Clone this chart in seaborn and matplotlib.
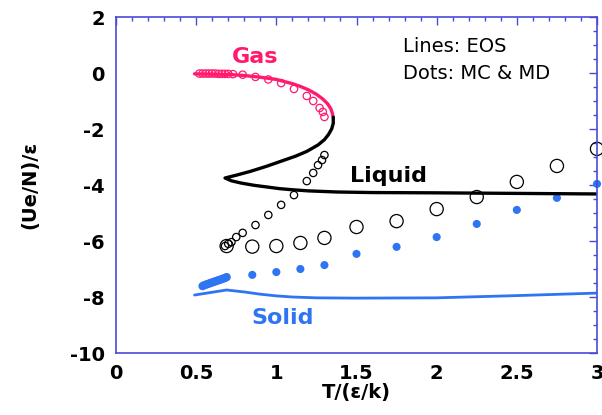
import matplotlib
matplotlib.use("Agg")
import matplotlib.pyplot as plt
from matplotlib.ticker import MultipleLocator
import seaborn as sns

# EOS lines
gas_T = [0.49, 0.60, 0.70, 0.80, 0.90, 1.00, 1.10, 1.15, 1.20, 1.25, 1.29, 1.32, 1.34, 1.35, 1.355]
gas_U = [-0.03, -0.04, -0.05, -0.09, -0.15, -0.23, -0.38, -0.48, -0.60, -0.76, -0.93, -1.10, -1.28, -1.45, -1.58]
loop_T = [1.355, 1.355, 1.345, 1.325, 1.30, 1.26, 1.19, 1.12, 1.04, 0.94, 0.84, 0.75, 0.68,
          0.72, 0.78, 0.86, 0.94, 1.02, 1.10, 1.20, 1.38, 1.60, 2.00, 2.50, 3.00]
loop_U = [-1.58, -1.80, -2.00, -2.20, -2.38, -2.57, -2.80, -2.97, -3.13, -3.33, -3.51, -3.65, -3.75,
          -3.85, -3.93, -4.01, -4.07, -4.13, -4.17, -4.21, -4.25, -4.27, -4.28, -4.30, -4.32]
solid_T = [0.49, 0.60, 0.69, 0.80, 0.90, 1.00, 1.10, 1.25, 1.50, 2.00, 2.50, 3.00]
solid_U = [-7.93, -7.83, -7.75, -7.82, -7.90, -7.96, -8.00, -8.03, -8.04, -8.03, -7.95, -7.86]

# MC / MD dots
gasmc_T = [0.52, 0.54, 0.56, 0.58, 0.60, 0.62, 0.64, 0.66, 0.68, 0.70, 0.73, 0.79, 0.87, 0.95, 1.03, 1.11, 1.19, 1.23, 1.27, 1.29, 1.30]
gasmc_U = [-0.02, -0.02, -0.02, -0.02, -0.02, -0.02, -0.03, -0.03, -0.03, -0.03, -0.04, -0.06, -0.14, -0.23, -0.36, -0.57, -0.82, -1.00, -1.25, -1.39, -1.57]
liqs_T = [0.68, 0.70, 0.72, 0.75, 0.79, 0.87, 0.95, 1.03, 1.11, 1.19, 1.23, 1.26, 1.285, 1.30]
liqs_U = [-6.18, -6.10, -6.04, -5.86, -5.71, -5.43, -5.07, -4.71, -4.36, -3.86, -3.57, -3.29, -3.11, -2.93]
liqb_T = [0.69, 0.85, 1.00, 1.15, 1.30, 1.50, 1.75, 2.00, 2.25, 2.50, 2.75, 3.00]
liqb_U = [-6.18, -6.20, -6.18, -6.07, -5.89, -5.50, -5.29, -4.86, -4.43, -3.89, -3.32, -2.71]
solc_T = [0.54, 0.55, 0.56, 0.57, 0.58, 0.59, 0.60, 0.61, 0.62, 0.63, 0.64, 0.65, 0.66, 0.67, 0.68, 0.69]
solc_U = [-7.61, -7.58, -7.56, -7.54, -7.52, -7.50, -7.48, -7.46, -7.44, -7.42, -7.40, -7.38, -7.36, -7.34, -7.32, -7.29]
sold_T = [0.85, 1.00, 1.15, 1.30, 1.50, 1.75, 2.00, 2.25, 2.50, 2.75, 3.00]
sold_U = [-7.21, -7.11, -7.00, -6.86, -6.46, -6.21, -5.86, -5.39, -4.89, -4.46, -3.96]

x_ticks = [0, 0.5, 1, 1.5, 2, 2.5, 3]
x_labels = ["0", "0.5", "1", "1.5", "2", "2.5", "3"]
y_ticks = [2, 0, -2, -4, -6, -8, -10]
y_labels = ["2", "0", "-2", "-4", "-6", "-8", "-10"]

PINK = "#ff1a6e"
BLUE = "#2f74f2"
SPINE = "#4a4ad8"

sns.set_style("white")
plt.rcParams['font.family'] = ['DejaVu Sans']
plt.rcParams['text.color'] = 'black'
plt.rcParams['axes.labelcolor'] = 'black'
plt.rcParams['xtick.labelcolor'] = 'black'
plt.rcParams['ytick.labelcolor'] = 'black'

fig = plt.figure(figsize=(6.02, 4.15), dpi=100)
ax = fig.add_axes([116/602, 1-353/415, 481/602, 336/415])

sns.lineplot(x=gas_T, y=gas_U, sort=False, estimator=None, color=PINK, lw=2.4, ax=ax)
sns.lineplot(x=loop_T, y=loop_U, sort=False, estimator=None, color="black", lw=2.4, ax=ax)
sns.lineplot(x=solid_T, y=solid_U, sort=False, estimator=None, color=BLUE, lw=2.0, ax=ax)

sns.scatterplot(x=gasmc_T, y=gasmc_U, s=28, facecolor="none", edgecolor=PINK, linewidth=0.9, ax=ax, clip_on=False)
sns.scatterplot(x=liqs_T, y=liqs_U, s=28, facecolor="none", edgecolor="black", linewidth=0.9, ax=ax, clip_on=False)
sns.scatterplot(x=liqb_T, y=liqb_U, s=90, facecolor="none", edgecolor="black", linewidth=0.9, ax=ax, clip_on=False)
sns.scatterplot(x=solc_T, y=solc_U, s=36, color=BLUE, edgecolor="none", ax=ax, clip_on=False)
sns.scatterplot(x=sold_T, y=sold_U, s=34, color=BLUE, edgecolor="none", ax=ax, clip_on=False)

ax.set_xlim(0, 3)
ax.set_ylim(-10, 2)
ax.xaxis.set_minor_locator(MultipleLocator(0.1))
ax.yaxis.set_minor_locator(MultipleLocator(0.5))
ax.set_xticks(x_ticks)
ax.set_xticklabels(x_labels)
ax.set_yticks(y_ticks)
ax.set_yticklabels(y_labels)
ax.tick_params(which="both", direction="in", top=True, right=True, color=SPINE,
               labelsize=14, width=1.0, labelcolor="black")
ax.tick_params(which="major", length=6, pad=8)
ax.tick_params(which="minor", length=3)
for lab in ax.get_xticklabels() + ax.get_yticklabels():
    lab.set_fontweight("bold")
for sp in ax.spines.values():
    sp.set_color(SPINE)
    sp.set_linewidth(1.2)

ax.set_xlabel("T/(ε/k)", fontsize=14, fontweight="bold", labelpad=0, color="black")
ax.set_ylabel("(Ue/N)/ε", fontsize=14, fontweight="bold", labelpad=22, color="black")

ax.text(0.87, 0.57, "Gas", color=PINK, fontsize=16, fontweight="bold", ha="center", va="center")
ax.text(1.70, -3.68, "Liquid", color="black", fontsize=16, fontweight="bold", ha="center", va="center")
ax.text(1.04, -8.75, "Solid", color=BLUE, fontsize=16, fontweight="bold", ha="center", va="center")
ax.text(1.79, 0.93, "Lines: EOS", color="black", fontsize=14, ha="left", va="center")
ax.text(1.79, 0.0, "Dots: MC & MD", color="black", fontsize=14, ha="left", va="center")

fig.savefig("out.png", dpi=100)
